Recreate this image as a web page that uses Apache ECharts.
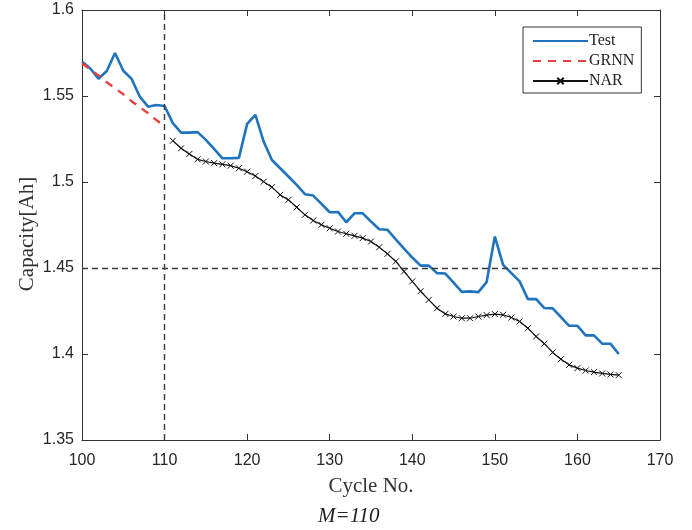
<!DOCTYPE html>
<html>
<head>
<meta charset="utf-8">
<script src="https://cdn.jsdelivr.net/npm/echarts@6/dist/echarts.min.js"></script>
<style>
html,body{margin:0;padding:0;background:#fff;}
#chart{width:692px;height:530px;}
</style>
</head>
<body>
<div id="chart"></div>
<script>
var testCycles = [100,101,102,103,104,105,106,107,108,109,110,111,112,113,114,115,116,117,118,119,120,121,122,123,124,125,126,127,128,129,130,131,132,133,134,135,136,137,138,139,140,141,142,143,144,145,146,147,148,149,150,151,152,153,154,155,156,157,158,159,160,161,162,163,164,165];
var testValues = [1.570,1.566,1.560,1.5645,1.575,1.5647,1.560,1.5496,1.5438,1.5448,1.5442,1.5342,1.5287,1.5287,1.529,1.5245,1.5192,1.5138,1.5138,1.514,1.5338,1.539,1.5235,1.5128,1.508,1.5032,1.4983,1.4929,1.4921,1.4873,1.4824,1.4826,1.4766,1.4818,1.4818,1.477,1.4725,1.4722,1.4667,1.4613,1.4561,1.4514,1.4514,1.447,1.4468,1.4415,1.4361,1.4364,1.436,1.4418,1.4683,1.4518,1.447,1.4422,1.4319,1.4319,1.4267,1.4265,1.4215,1.4164,1.4164,1.4108,1.4108,1.406,1.406,1.400];
var grnnCycles = [100,101,102,103,104,105,106,107,108,109,110];
var grnnValues = [1.569,1.5655,1.562,1.558,1.5545,1.551,1.547,1.5435,1.540,1.536,1.5326];
var narCycles = [111,112,113,114,115,116,117,118,119,120,121,122,123,124,125,126,127,128,129,130,131,132,133,134,135,136,137,138,139,140,141,142,143,144,145,146,147,148,149,150,151,152,153,154,155,156,157,158,159,160,161,162,163,164,165];
var narValues = [1.524,1.5196,1.5163,1.5132,1.5119,1.511,1.5103,1.5095,1.508,1.506,1.5035,1.5002,1.497,1.4925,1.4896,1.4853,1.4809,1.4776,1.4751,1.4731,1.4712,1.4699,1.4687,1.4674,1.4654,1.4621,1.4582,1.4538,1.448,1.4422,1.4365,1.4315,1.4266,1.4233,1.4218,1.4208,1.4208,1.4218,1.4226,1.4232,1.4228,1.4212,1.4189,1.415,1.4102,1.406,1.4009,1.397,1.3937,1.3918,1.3904,1.3895,1.3887,1.3881,1.3877];
var xTicks = [100,110,120,130,140,150,160,170];
var yTicks = [1.35,1.4,1.45,1.5,1.55,1.6];
var splitX = 110, thresholdY = 1.45;

function pairs(xs, ys){ return xs.map(function(x,i){ return [x, ys[i]]; }); }

var chart = echarts.init(document.getElementById('chart'), null, {renderer:'canvas'});
var axisColor = '#333';
var tickFont = {fontFamily:'"Liberation Sans", Arial, sans-serif', fontSize:16, color:'#262626'};
var serif = '"Liberation Serif", "Times New Roman", serif';
var xMin = xTicks[0], xMax = xTicks[xTicks.length-1];
var yMin = yTicks[0], yMax = yTicks[yTicks.length-1];

chart.setOption({
  animation:false,
  backgroundColor:'#fff',
  title:{
    text:'M=110', left:313, top:501,
    textStyle:{fontFamily:serif, fontStyle:'italic', fontWeight:'normal', fontSize:21, color:'#222'}
  },
  graphic:[{
    type:'text', x:27, y:234, rotation:Math.PI/2,
    style:{text:'Capacity[Ah]', font:'21px ' + serif, fill:'#333', align:'center', verticalAlign:'middle'}
  }],
  grid:{left:82, right:32, top:10, bottom:90},
  legend:{
    orient:'vertical', left:523, top:27,
    padding:[6,7,4,9], itemGap:4, itemWidth:55, itemHeight:8,
    borderColor:'#333', borderWidth:1, backgroundColor:'#fff',
    textStyle:{fontFamily:serif, fontSize:16, lineHeight:14, color:'#222', padding:[0,0,0,-4]},
    data:[
      {name:'Test', itemStyle:{opacity:0}},
      {name:'GRNN', itemStyle:{opacity:0}},
      {name:'NAR'}
    ]
  },
  xAxis:[{
    type:'value', min:xMin, max:xMax, interval:10,
    name:'Cycle No.', nameLocation:'middle', nameGap:36,
    nameTextStyle:{fontFamily:serif, fontSize:21, color:'#333'},
    axisLine:{show:true, onZero:false, lineStyle:{color:axisColor, width:1}},
    axisTick:{show:true, inside:true, length:6, lineStyle:{color:axisColor}},
    axisLabel:Object.assign({margin:13}, tickFont),
    splitLine:{show:false}
  },{
    type:'value', min:xMin, max:xMax, interval:10, position:'top',
    axisLine:{show:true, onZero:false, lineStyle:{color:axisColor, width:1}},
    axisTick:{show:true, inside:true, length:6, lineStyle:{color:axisColor}},
    axisLabel:{show:false}, splitLine:{show:false}
  }],
  yAxis:[{
    type:'value', min:yMin, max:yMax, interval:0.05,
    axisLine:{show:true, onZero:false, lineStyle:{color:axisColor, width:1}},
    axisTick:{show:true, inside:true, length:6, lineStyle:{color:axisColor}},
    axisLabel:Object.assign({margin:8, formatter:function(v){return String(parseFloat(v.toFixed(2)));}}, tickFont),
    splitLine:{show:false}
  },{
    type:'value', min:yMin, max:yMax, interval:0.05, position:'right',
    axisLine:{show:true, onZero:false, lineStyle:{color:axisColor, width:1}},
    axisTick:{show:true, inside:true, length:6, lineStyle:{color:axisColor}},
    axisLabel:{show:false}, splitLine:{show:false}
  }],
  series:[
    {
      name:'Test', type:'line', data:pairs(testCycles,testValues),
      showSymbol:false, symbol:'none',
      lineStyle:{color:'#1f74bd', width:2.6}, itemStyle:{color:'#1f74bd'},
      z:3,
      markLine:{
        silent:true, symbol:'none', label:{show:false},
        lineStyle:{color:'#3a3a3a', type:[6,4], width:1.4},
        data:[{xAxis:splitX},{yAxis:thresholdY}]
      }
    },
    {
      name:'GRNN', type:'line', data:pairs(grnnCycles,grnnValues),
      showSymbol:false, symbol:'none',
      lineStyle:{color:'#e8413f', width:2.4, type:[8,7]}, itemStyle:{color:'#e8413f'},
      z:4
    },
    {
      name:'NAR', type:'line', data:pairs(narCycles,narValues),
      symbol:'path://M0,0L10,10M10,0L0,10', symbolSize:6, showSymbol:true,
      lineStyle:{color:'#111', width:1.2},
      itemStyle:{color:'#111', borderColor:'#111', borderWidth:1},
      z:2
    }
  ]
});
</script>
</body>
</html>
